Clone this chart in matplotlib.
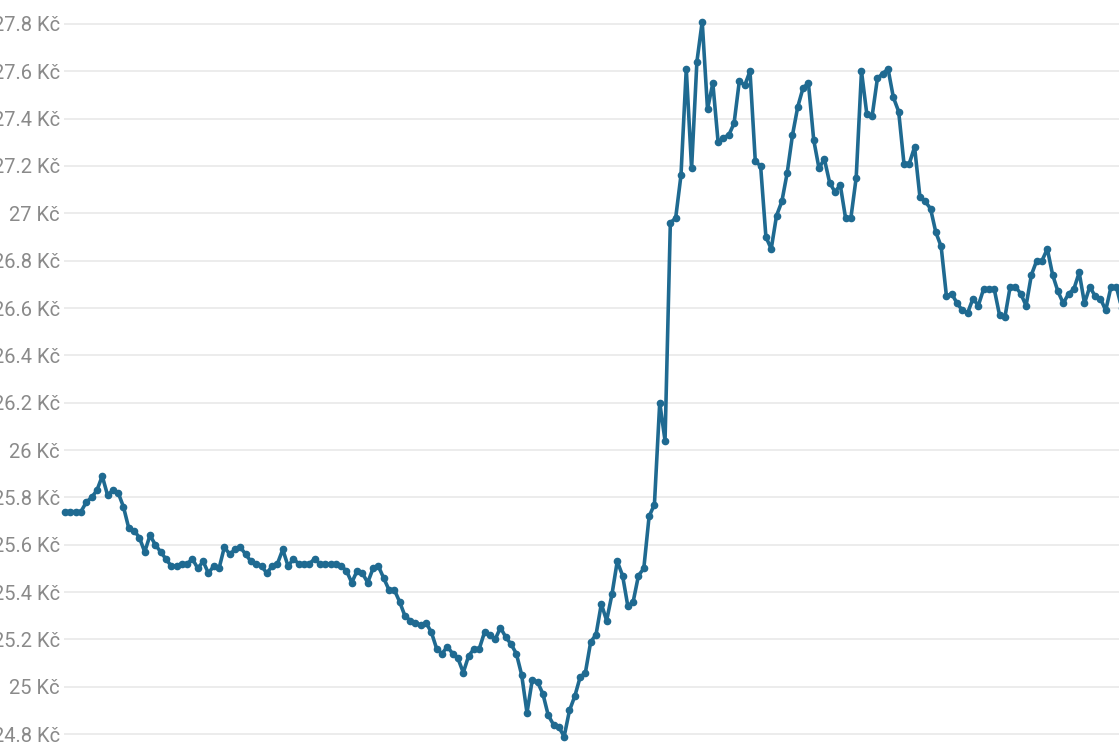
import numpy as np
import matplotlib.pyplot as plt
from matplotlib.ticker import FuncFormatter

# Kurz (Kč) - denní hodnoty
kurz = [
    25.74, 25.74, 25.74, 25.74, 25.78, 25.80, 25.83, 25.89, 25.81, 25.83,
    25.82, 25.76, 25.67, 25.66, 25.63, 25.57, 25.64, 25.60, 25.57, 25.54,
    25.51, 25.51, 25.52, 25.52, 25.54, 25.50, 25.53, 25.48, 25.51, 25.50,
    25.59, 25.56, 25.58, 25.59, 25.56, 25.53, 25.52, 25.51, 25.48, 25.51,
    25.52, 25.58, 25.51, 25.54, 25.52, 25.52, 25.52, 25.54, 25.52, 25.52,
    25.52, 25.52, 25.51, 25.49, 25.44, 25.49, 25.48, 25.44, 25.50, 25.51,
    25.46, 25.41, 25.41, 25.36, 25.30, 25.28, 25.27, 25.26, 25.27, 25.23,
    25.16, 25.14, 25.17, 25.14, 25.12, 25.06, 25.13, 25.16, 25.16, 25.23,
    25.22, 25.20, 25.25, 25.21, 25.18, 25.14, 25.05, 24.89, 25.03, 25.02,
    24.97, 24.88, 24.84, 24.83, 24.79, 24.90, 24.96, 25.04, 25.06, 25.19,
    25.22, 25.35, 25.28, 25.39, 25.53, 25.47, 25.34, 25.36, 25.47, 25.50,
    25.72, 25.77, 26.20, 26.04, 26.96, 26.98, 27.16, 27.61, 27.19, 27.64,
    27.81, 27.44, 27.55, 27.30, 27.32, 27.33, 27.38, 27.56, 27.54, 27.60,
    27.22, 27.20, 26.90, 26.85, 26.99, 27.05, 27.17, 27.33, 27.45, 27.53,
    27.55, 27.31, 27.19, 27.23, 27.13, 27.09, 27.12, 26.98, 26.98, 27.15,
    27.60, 27.42, 27.41, 27.57, 27.59, 27.61, 27.49, 27.43, 27.21, 27.21,
    27.28, 27.07, 27.05, 27.02, 26.92, 26.86, 26.65, 26.66, 26.62, 26.59,
    26.58, 26.64, 26.61, 26.68, 26.68, 26.68, 26.57, 26.56, 26.69, 26.69,
    26.66, 26.61, 26.74, 26.80, 26.80, 26.85, 26.74, 26.67, 26.62, 26.66,
    26.68, 26.75, 26.62, 26.69, 26.65, 26.64, 26.59, 26.69, 26.69, 26.60,
]
yticks = [24.8, 25.0, 25.2, 25.4, 25.6, 25.8, 26.0, 26.2, 26.4, 26.6,
          26.8, 27.0, 27.2, 27.4, 27.6, 27.8]

plt.rcParams['font.family'] = ['Roboto', 'DejaVu Sans']

fig = plt.figure(figsize=(11.19, 7.46), dpi=100)
ax = fig.add_axes([64 / 1119, 0, 1 - 64 / 1119, 1])

x = np.arange(len(kurz))
ax.plot(x, kurz, color='#1f6a91', lw=2.6, marker='o', ms=4.5,
        clip_on=False, zorder=3)

ax.set_xlim(-0.2, 198.5)
ax.set_ylim(24.75, 27.901)
ax.set_yticks(yticks)
ax.yaxis.set_major_formatter(FuncFormatter(lambda v, p: f"{round(v, 1):g} Kč"))
ax.set_xticks([])
ax.tick_params(axis='y', length=0, pad=3, labelsize=14.5, labelcolor='#8a8a8a')
ax.grid(axis='y', color='#ebebeb', lw=1.3)
for s in ax.spines.values():
    s.set_visible(False)

fig.savefig('out.png', dpi=100)
